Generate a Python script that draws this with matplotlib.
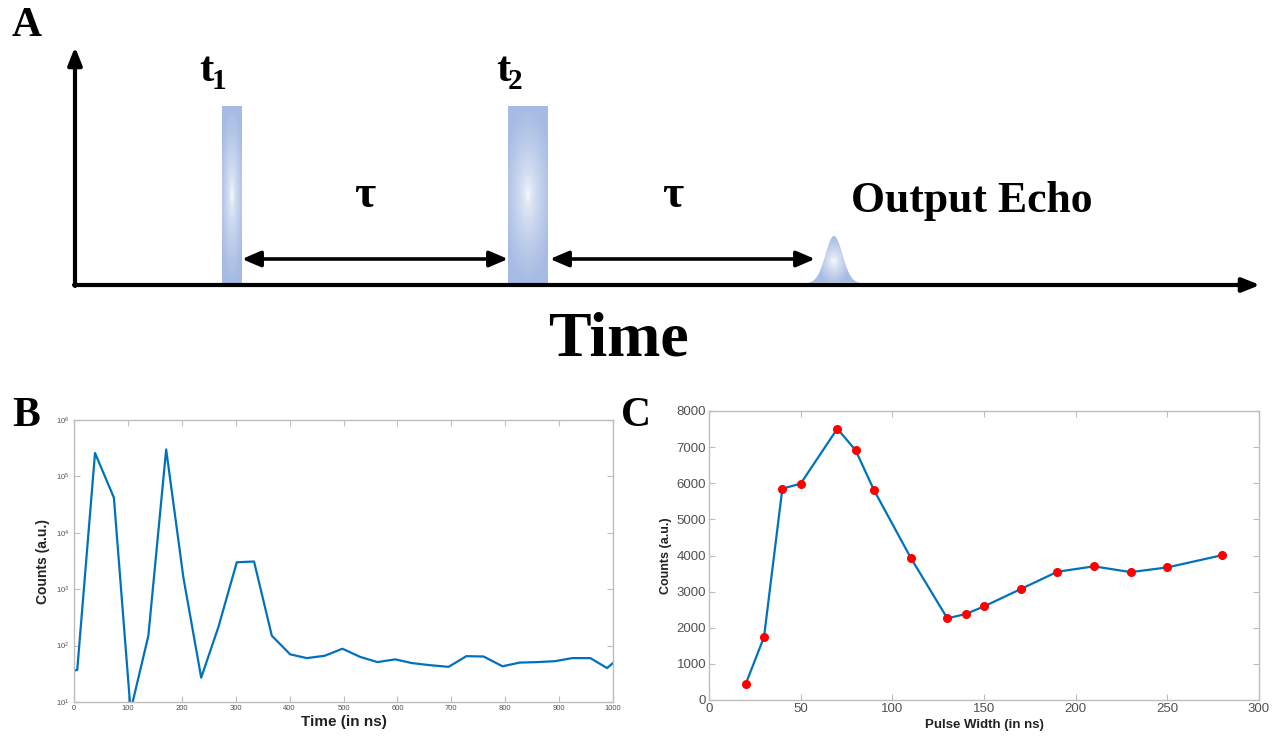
import numpy as np
import matplotlib

matplotlib.use('Agg')
import matplotlib.pyplot as plt
from matplotlib.patches import Polygon
from matplotlib.ticker import LogLocator, LogFormatterMathtext

# echo decay trace (panel B)
decay_time = [0, 6, 39, 74, 105, 138, 171, 203, 236, 268, 302, 334, 367, 401, 432, 465, 498,
              531, 563, 596, 627, 660, 695, 728, 760, 795, 827, 860, 893, 924, 958, 989, 1000]
decay_counts = [36, 37, 2.6e5, 4.2e4, 7, 150, 3.0e5, 1.6e3, 27, 215, 3.0e3, 3.1e3, 150, 70, 60,
                66, 88, 63, 51, 57, 49, 45, 42, 65, 64, 43, 50, 51, 53, 60, 60, 40, 49]

# echo amplitude vs pulse width (panel C)
pulse_width = [20, 30, 40, 50, 70, 80, 90, 110, 130, 140, 150, 170, 190, 210, 230, 250, 280]
echo_counts = [440, 1740, 5850, 5990, 7510, 6910, 5810, 3940, 2260, 2380, 2590, 3070, 3550,
               3700, 3540, 3670, 4010]

# schematic of the two-pulse sequence (panel A), in pixels
pulse_edges = [(222, 242), (508, 548)]
pulse_top, pulse_bottom = 106, 283
tau_arrows = [(242, 508), (550, 815)]
echo_center = 834

BLUE = '#0072BD'
GRAY = '#bdbdbd'
TICK = '#505050'
PULSE_BLUE = np.array([166, 187, 227]) / 255.0
SERIF = 'Liberation Serif'
SANS = 'Liberation Sans'

fig = plt.figure(figsize=(12.8, 7.38), dpi=100)

# --- panel A: pixel-space overlay
ax0 = fig.add_axes([0, 0, 1, 1])
ax0.set_axis_off()


def gradient_rgb(nx, ny, xscale, power):
    yy, xx = np.mgrid[-1:1:ny * 1j, -1:1:nx * 1j]
    r = np.clip(np.sqrt((xx * xscale) ** 2 + yy ** 2), 0, 1) ** power
    return (1 - r)[..., None] * np.ones(3) + r[..., None] * PULSE_BLUE


for x0, x1 in pulse_edges:
    ax0.imshow(gradient_rgb(40, 200, 0.75, 0.55), extent=(x0, x1, pulse_bottom, pulse_top),
               aspect='auto', interpolation='bilinear', zorder=1)

# gaussian echo with the same shading
ex = np.linspace(echo_center - 27, echo_center + 27, 120)
ey = 283 - 47 * np.exp(-(ex - echo_center) ** 2 / (2 * 8.5 ** 2))
echo_poly = Polygon(np.column_stack([ex, ey]), closed=True, facecolor='none', edgecolor='none')
ax0.add_patch(echo_poly)
im = ax0.imshow(gradient_rgb(60, 60, 1.6, 0.7), extent=(echo_center - 27, echo_center + 27, 286, 236),
                aspect='auto', interpolation='bilinear', zorder=1)
im.set_clip_path(echo_poly)

# time axes of the diagram
ax0.annotate('', xy=(75, 47), xytext=(75, 286),
             arrowprops=dict(arrowstyle='-|>,head_length=0.7,head_width=0.28', lw=3.0, color='black',
                             shrinkA=0, shrinkB=0, mutation_scale=15), zorder=3)
ax0.annotate('', xy=(1260, 285), xytext=(74, 285),
             arrowprops=dict(arrowstyle='-|>,head_length=0.7,head_width=0.28', lw=3.0, color='black',
                             shrinkA=0, shrinkB=0, mutation_scale=15), zorder=3)

for xa, xb in tau_arrows:
    ax0.annotate('', xy=(xb, 259), xytext=(xa, 259),
                 arrowprops=dict(arrowstyle='<|-|>,head_length=0.7,head_width=0.3', lw=2.6,
                                 color='black', shrinkA=0, shrinkB=0, mutation_scale=16), zorder=3)
    ax0.text((xa + xb) / 2 - 10, 207, '\u03c4', family=SERIF, weight='bold', fontsize=33,
             ha='center', va='baseline')

ax0.text(199, 81, 't', family=SERIF, weight='bold', fontsize=31, va='baseline')
ax0.text(212, 89, '1', family=SERIF, weight='bold', fontsize=21, va='baseline')
ax0.text(496, 81, 't', family=SERIF, weight='bold', fontsize=31, va='baseline')
ax0.text(508, 89, '2', family=SERIF, weight='bold', fontsize=21, va='baseline')
ax0.text(851, 212, 'Output Echo', family=SERIF, weight='bold', fontsize=31.5, va='baseline')
ax0.text(618, 356, 'Time', family=SERIF, weight='bold', fontsize=46, ha='center', va='baseline')

for label, x, y in [('A', 12, 36), ('B', 12, 426), ('C', 621, 426)]:
    ax0.text(x, y, label, family=SERIF, weight='bold', fontsize=30, va='baseline')

ax0.set_xlim(0, 1280)
ax0.set_ylim(738, 0)


def matlab_style(ax, labelsize):
    for s in ax.spines.values():
        s.set_color(GRAY)
        s.set_linewidth(1.0)
    ax.tick_params(which='both', direction='in', top=True, right=True, color=GRAY,
                   labelcolor=TICK, labelsize=labelsize, length=4, width=0.8)
    for lab in ax.get_xticklabels() + ax.get_yticklabels():
        lab.set_family(SANS)


# --- panel B
axB = fig.add_axes([74 / 1280, 1 - 702 / 738, 539 / 1280, 282 / 738])
axB.plot(decay_time, decay_counts, color=BLUE, lw=1.6)
axB.set_yscale('log')
axB.set_xlim(0, 1000)
axB.set_ylim(10, 1e6)
axB.set_xticks(np.arange(0, 1001, 100))
axB.yaxis.set_major_locator(LogLocator(base=10, numticks=10))
axB.yaxis.set_major_formatter(LogFormatterMathtext())
axB.yaxis.set_minor_locator(matplotlib.ticker.NullLocator())
matlab_style(axB, 5.5)
axB.tick_params(axis='x', pad=2)
axB.set_xlabel('Time (in ns)', family=SANS, weight='bold', fontsize=11, labelpad=2, color='#222222')
axB.set_ylabel('Counts (a.u.)', family=SANS, weight='bold', fontsize=10, labelpad=4, color='#222222')

# --- panel C
axC = fig.add_axes([709 / 1280, 1 - 700 / 738, 550 / 1280, 289 / 738])
axC.plot(pulse_width, echo_counts, color=BLUE, lw=1.6, marker='o', markersize=5.5,
         markerfacecolor='#ff0000', markeredgecolor='#ff0000')
axC.set_xlim(0, 300)
axC.set_ylim(0, 8000)
axC.set_xticks(np.arange(0, 301, 50))
axC.set_yticks(np.arange(0, 8001, 1000))
matlab_style(axC, 9.5)
axC.tick_params(axis='both', pad=2)
axC.set_xlabel('Pulse Width (in ns)', family=SANS, weight='bold', fontsize=9.5, labelpad=3,
               color='#222222')
axC.set_ylabel('Counts (a.u.)', family=SANS, weight='bold', fontsize=9, labelpad=3, color='#222222')

fig.savefig('out.png', dpi=100, facecolor='white')
